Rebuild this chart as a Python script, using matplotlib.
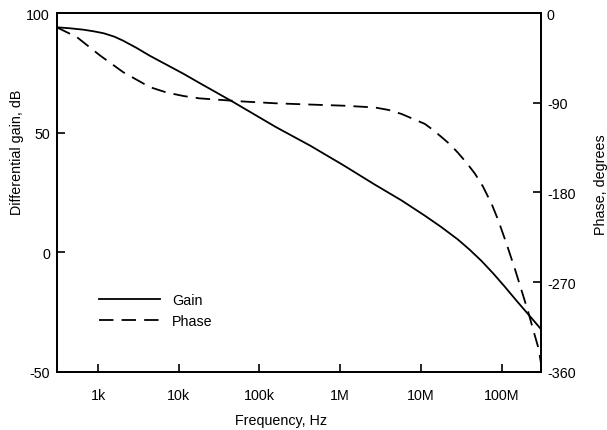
import numpy as np
import matplotlib
matplotlib.use("Agg")
import matplotlib.pyplot as plt
from matplotlib.ticker import FixedLocator, NullLocator

plt.rcParams['font.family'] = ['Liberation Sans', 'DejaVu Sans']
plt.rcParams['font.size'] = 10.3
plt.rcParams['axes.unicode_minus'] = False

# Data
gain_freq = [309, 447, 661, 891, 1175, 1585, 2042, 2950, 4365, 7080, 11480,
             17800, 28180, 47860, 158000, 426600, 1.10e6, 2.69e6, 5.75e6,
             1.12e7, 1.78e7, 2.88e7, 3.98e7, 5.62e7, 7.94e7, 1.10e8, 1.55e8,
             2.14e8, 2.63e8, 3.09e8]
gain_db = [94.2, 93.8, 93.2, 92.5, 91.7, 90.3, 88.6, 85.7, 82.3, 78.5, 74.7,
           71.0, 67.2, 62.8, 52.5, 44.6, 36.4, 28.3, 21.7,
           15.3, 10.6, 5.3, 1.2, -3.6, -9.0, -14.5, -20.5,
           -26.0, -29.5, -32.3]

phase_freq = [309, 550, 1047, 2042, 4365, 7080, 11480, 17800, 28180, 63100,
              158000, 398000, 1.10e6, 2.69e6, 3.98e6, 5.75e6, 1.12e7, 1.41e7,
              1.82e7, 2.29e7, 2.88e7, 3.72e7, 4.68e7, 5.89e7, 7.59e7, 9.12e7,
              1.17e8, 1.48e8, 1.78e8, 2.14e8, 2.51e8, 2.88e8, 3.09e8]
phase_deg = [-14, -24, -42, -59, -74, -79.5, -83, -85.3, -86.5, -88.5,
             -90.3, -91.5, -92.7, -94.5, -97, -101, -111, -117,
             -124.5, -131.5, -140, -150.5, -161, -174, -192, -208,
             -233, -258, -279, -300, -320, -337, -352]

xticks = [1e3, 1e4, 1e5, 1e6, 1e7, 1e8]
xtick_labels = ['1k', '10k', '100k', '1M', '10M', '100M']
gain_ticks = [-50, 0, 50, 100]
phase_ticks = [0, -90, -180, -270, -360]

fig = plt.figure(figsize=(6.07, 4.31), dpi=100)
ax = fig.add_axes([0.0939, 0.1357, 0.7981, 0.8307])
ax2 = ax.twinx()

g_line, = ax.plot(gain_freq, gain_db, color='black', lw=1.3, label='Gain')
p_line, = ax2.plot(phase_freq, phase_deg, color='black', lw=1.3,
                   dashes=(8, 4.5), label='Phase')

ax.set_xscale('log')
ax.set_xlim(10**2.49, 10**8.495)
ax.set_ylim(-50, 100)
ax2.set_ylim(-360, 0)

ax.xaxis.set_major_locator(FixedLocator(xticks))
ax.set_xticklabels(xtick_labels)
ax.xaxis.set_minor_locator(NullLocator())
ax.set_yticks(gain_ticks)
ax2.set_yticks(phase_ticks)

ax.tick_params(axis='x', direction='in', length=6, width=1.2, pad=12)
ax.tick_params(axis='y', direction='in', length=6, width=1.2, pad=5)
ax2.tick_params(axis='y', direction='in', length=6, width=1.2, pad=4)

for a in (ax, ax2):
    for s in a.spines.values():
        s.set_linewidth(1.3)

ax.set_xlabel('Frequency, Hz', x=0.463, labelpad=8)
ax.set_ylabel('Differential gain, dB', y=0.616, labelpad=2)
ax2.set_ylabel('Phase, degrees', y=0.524, labelpad=13)

ax2.legend(handles=[g_line, p_line], loc='upper left',
           bbox_to_anchor=(0.06, 0.255), frameon=False,
           handlelength=4.3, handletextpad=0.8, labelspacing=0.45)

fig.savefig('out.png', dpi=100)
